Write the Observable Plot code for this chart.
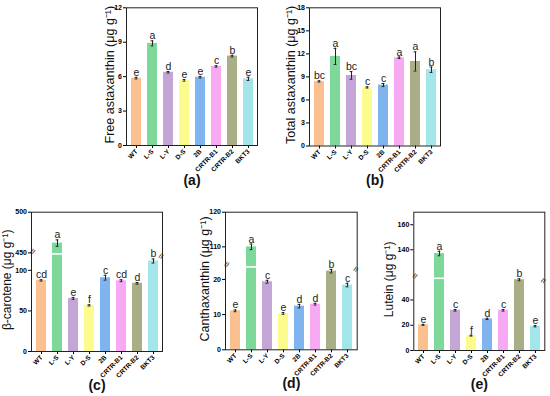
<!DOCTYPE html>
<html><head><meta charset="utf-8">
<script src="https://cdn.jsdelivr.net/npm/d3@7"></script>
<script src="https://cdn.jsdelivr.net/npm/@observablehq/plot@0.6"></script>
<style>
body{margin:0;background:#fff;font-family:"Liberation Sans",Arial,sans-serif;}
#c{position:relative;width:550px;height:396px;overflow:hidden;}
#c svg{position:absolute;left:0;top:0;}
</style>
</head><body><div id="c"></div>
<script>
const categories = ["WT","L-S","L-Y","D-S","2B","CRTR-B1","CRTR-B2","BKT3"];
const colors = ["#FBC08F","#7DD89A","#C3A5D6","#FCFC8E","#80B4EE","#F8A9F4","#A9AE86","#A2E6EA"];

const freeAsta    = [5.87, 8.90, 6.38, 5.68, 5.95, 6.89, 7.79, 5.81];
const freeAstaErr = [0.07, 0.22, 0.06, 0.07, 0.07, 0.06, 0.07, 0.14];
const freeAstaSig = ["e","a","d","e","e","c","b","e"];

const totalAsta    = [8.41, 11.67, 9.19, 7.63, 7.94, 11.49, 11.01, 9.93];
const totalAstaErr = [0.08, 1.05, 0.50, 0.08, 0.20, 0.10, 1.25, 0.35];
const totalAstaSig = ["bc","a","bc","c","c","a","a","b"];

const betaCar    = [87.6, 462.0, 65.4, 56.8, 90.9, 87.2, 84.0, 111.5];
const betaCarErr = [0.8, 4.0, 1.2, 0.8, 3.0, 1.2, 1.0, 2.5];
const betaCarSig = ["cd","a","e","f","c","cd","d","b"];

const cantha    = [11.08, 110.0, 19.34, 10.33, 12.40, 12.96, 22.35, 18.40];
const canthaErr = [0.25, 0.8, 0.40, 0.25, 0.50, 0.25, 0.50, 0.50];
const canthaSig = ["e","a","c","e","d","d","b","c"];

const lutein    = [20.3, 137.0, 31.8, 11.8, 25.0, 31.8, 56.0, 19.2];
const luteinErr = [0.4, 1.8, 0.6, 0.4, 0.5, 0.6, 0.8, 0.5];
const luteinSig = ["e","a","c","f","d","c","b","e"];

const W = 550, H = 396;
const FONT = '"Liberation Sans", Arial, sans-serif';

function panel(cfg) {
  const data = categories.map((c, i) => ({cat: c, v: cfg.values[i], e: cfg.errs[i], s: cfg.sigs[i]}));
  const {l, r, t, b} = cfg.frame;
  const yScale = cfg.breakAt
    ? {type: "linear", domain: cfg.domain, range: cfg.range, ticks: cfg.ticks}
    : {type: "linear", domain: cfg.domain, ticks: cfg.ticks};
  const marks = [
    Plot.barY(data, {x: "cat", y1: 0, y2: "v", fill: "cat"}),
    Plot.ruleX(data, {x: "cat", y1: d => d.v - d.e, y2: d => d.v + d.e, stroke: "#222", strokeWidth: 1}),
    Plot.tickY(data, {x: "cat", y: d => d.v + d.e, stroke: "#222", strokeWidth: 1, inset: 3.6}),
    Plot.tickY(data, {x: "cat", y: d => d.v - d.e, stroke: "#222", strokeWidth: 1, inset: 3.6}),
    Plot.text(data, {x: "cat", y: d => d.v + d.e, text: "s", dy: -1.5, lineAnchor: "bottom", fontSize: 10.5, fill: "#222"})
  ];
  if (cfg.breakAt) {
    const gapBars = data.filter(d => d.v > cfg.breakAt[0]);
    marks.push(Plot.tickY(gapBars, {x: "cat", y: cfg.breakAt[1], stroke: "white", strokeWidth: 1.6, dy: 1}));
    marks.push(Plot.text([cfg.breakAt[1]], {y: d => d, frameAnchor: "left", text: () => "≈", rotate: -60, fontSize: 10, fill: "#222", stroke: "white", strokeWidth: 2, dy: 1}));
    marks.push(Plot.text([cfg.breakAt[1]], {y: d => d, frameAnchor: "right", text: () => "≈", rotate: -60, fontSize: 10, fill: "#222", stroke: "white", strokeWidth: 2, dy: 1}));
  }
  marks.push(
    Plot.axisY({ticks: cfg.ticks, tickSize: 3, tickPadding: 1.5, fontSize: 7, fontWeight: "bold", label: null}),
    Plot.axisX({tickRotate: -45, tickSize: 3, tickPadding: 2, fontSize: 6.5, fontWeight: "bold", label: null}),
    Plot.frame({stroke: "#222", strokeWidth: 1}),
    Plot.text([cfg.label], {frameAnchor: "left", text: d => d, rotate: -90, textAnchor: "middle", dx: -cfg.labelOffset, dy: -2, fontSize: cfg.labelSize, fill: "#111"}),
    Plot.text([cfg.letter], {frameAnchor: "bottom", text: d => d, dy: cfg.letterDy, fontSize: 14, fontWeight: "bold", fill: "#111"})
  );
  return Plot.plot({
    width: W, height: H,
    marginLeft: l, marginRight: W - r, marginTop: t, marginBottom: H - b,
    style: {background: "transparent", overflow: "visible", fontFamily: FONT},
    x: {type: "band", domain: categories, paddingInner: 0.39, paddingOuter: 0.23},
    y: yScale,
    color: {domain: categories, range: colors},
    marks
  });
}

const c = document.getElementById("c");
c.append(panel({
  values: freeAsta, errs: freeAstaErr, sigs: freeAstaSig,
  frame: {l: 126, r: 257, t: 7.3, b: 145},
  domain: [0, 12], ticks: [0, 3, 6, 9, 12],
  label: "Free astaxanthin (μg g⁻¹)", labelOffset: 17, labelSize: 12.5, letter: "(a)", letterDy: 39
}));
c.append(panel({
  values: totalAsta, errs: totalAstaErr, sigs: totalAstaSig,
  frame: {l: 309, r: 440, t: 7.3, b: 145.5},
  domain: [0, 18], ticks: [0, 3, 6, 9, 12, 15, 18],
  label: "Total astaxanthin (μg g⁻¹)", labelOffset: 19, labelSize: 12.5, letter: "(b)", letterDy: 39
}));
c.append(panel({
  values: betaCar, errs: betaCarErr, sigs: betaCarSig,
  frame: {l: 31, r: 162, t: 211.7, b: 351},
  domain: [0, 120, 450, 500], range: [351, 253.6, 252.4, 211.7], ticks: [0, 50, 100, 450, 500],
  breakAt: [120, 450],
  label: "β-carotene (μg g⁻¹)", labelOffset: 24, labelSize: 12, letter: "(c)", letterDy: 38
}));
c.append(panel({
  values: cantha, errs: canthaErr, sigs: canthaSig,
  frame: {l: 225, r: 356.7, t: 211.7, b: 349.3},
  domain: [0, 23.5, 104.5, 120], range: [349.3, 266.6, 265.4, 211.7], ticks: [0, 10, 20, 110, 120],
  breakAt: [23.5, 104.5],
  label: "Canthaxanthin (μg g⁻¹)", labelOffset: 20.5, labelSize: 12.5, letter: "(d)", letterDy: 38
}));
c.append(panel({
  values: lutein, errs: luteinErr, sigs: luteinSig,
  frame: {l: 413.3, r: 544.3, t: 211.7, b: 350},
  domain: [0, 57, 118, 170], range: [350, 278, 276.8, 211.7], ticks: [0, 20, 40, 140, 160],
  breakAt: [57, 118],
  label: "Lutein (μg g⁻¹)", labelOffset: 24.5, labelSize: 12, letter: "(e)", letterDy: 38
}));
</script>
</body></html>
